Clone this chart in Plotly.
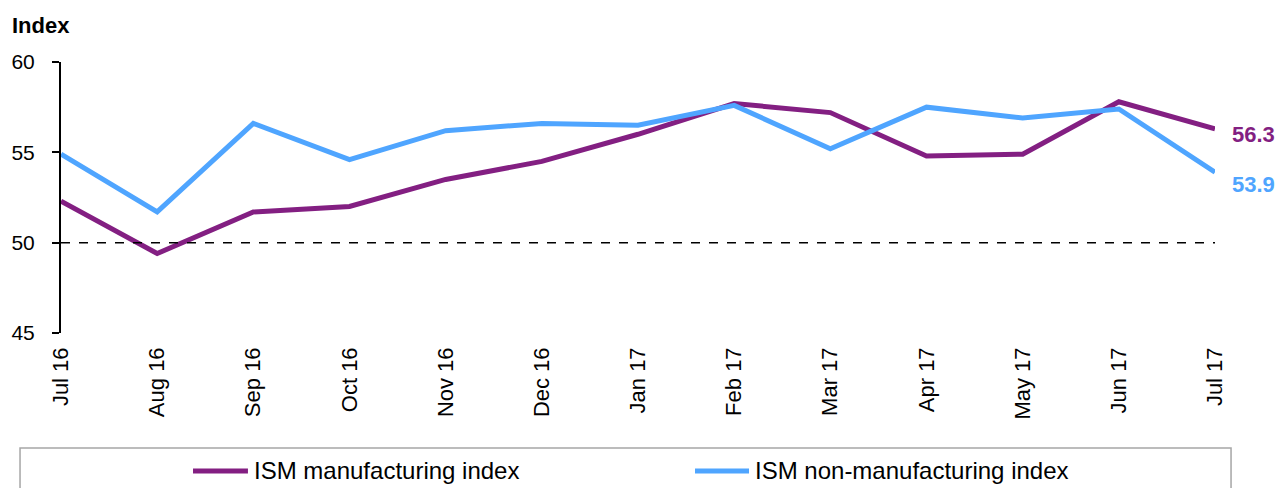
import plotly.graph_objects as go

months = ["Jul 16", "Aug 16", "Sep 16", "Oct 16", "Nov 16", "Dec 16", "Jan 17",
          "Feb 17", "Mar 17", "Apr 17", "May 17", "Jun 17", "Jul 17"]
ism_manufacturing = [52.3, 49.4, 51.7, 52.0, 53.5, 54.5, 56.0, 57.7, 57.2, 54.8, 54.9, 57.8, 56.3]
ism_non_manufacturing = [54.9, 51.7, 56.6, 54.6, 56.2, 56.6, 56.5, 57.6, 55.2, 57.5, 56.9, 57.4, 53.9]
series_names = ["ISM manufacturing index", "ISM non-manufacturing index"]

PURPLE = "#831F82"
BLUE = "#4FA5FF"
FONT = "Liberation Sans, Arial, sans-serif"

fig = go.Figure()
fig.add_trace(go.Scatter(x=months, y=ism_manufacturing, mode="lines",
                         name=series_names[0], showlegend=False,
                         line=dict(color=PURPLE, width=5)))
fig.add_trace(go.Scatter(x=months, y=ism_non_manufacturing, mode="lines",
                         name=series_names[1], showlegend=False,
                         line=dict(color=BLUE, width=5)))

# 50 reference line
fig.add_shape(type="line", xref="paper", yref="y", x0=0, x1=1, y0=50, y1=50,
              line=dict(color="black", width=1.5, dash="dash"))
# legend box
fig.add_shape(type="rect", xref="paper", yref="paper", x0=-0.0355, x1=1.0139,
              y0=-0.75, y1=-0.4244, line=dict(color="#A6A6A6", width=1.5))
# legend entries
leg_y = -0.5092
for (x0, x1, tx), col, name in zip([(0.1144, 0.1620, 0.1655), (0.5494, 0.5962, 0.6000)],
                                   [PURPLE, BLUE], series_names):
    fig.add_shape(type="line", xref="paper", yref="paper", x0=x0, x1=x1, y0=leg_y, y1=leg_y,
                  line=dict(color=col, width=5))
    fig.add_annotation(xref="paper", yref="paper", x=tx, y=leg_y, text=name,
                       showarrow=False, xanchor="left", yanchor="middle",
                       font=dict(color="black", size=24, family=FONT))

fig.add_annotation(x=months[-1], y=ism_manufacturing[-1], text="<b>%.1f</b>" % ism_manufacturing[-1],
                   showarrow=False, xanchor="left", xshift=15, yshift=-6,
                   font=dict(color=PURPLE, size=22, family=FONT))
fig.add_annotation(x=months[-1], y=ism_non_manufacturing[-1], text="<b>%.1f</b>" % ism_non_manufacturing[-1],
                   showarrow=False, xanchor="left", xshift=15, yshift=-12,
                   font=dict(color=BLUE, size=22, family=FONT))
fig.add_annotation(xref="paper", yref="paper", x=-0.0442, y=1.135, text="<b>Index</b>",
                   showarrow=False, xanchor="left", yanchor="middle",
                   font=dict(color="black", size=22, family=FONT))

fig.update_layout(
    width=1279, height=488,
    margin=dict(l=61, r=64, t=62, b=155),
    paper_bgcolor="white", plot_bgcolor="white",
    font=dict(family=FONT, color="black"),
    showlegend=False,
    xaxis=dict(type="category", range=[0, 12], showgrid=False, showline=False,
               zeroline=False, ticks="", tickangle=-90, ticklabelstandoff=9,
               automargin=False,
               tickfont=dict(size=22, family=FONT)),
    yaxis=dict(range=[45, 60], dtick=5, showgrid=False, zeroline=False,
               showline=True, linecolor="black", linewidth=2,
               ticks="outside", ticklen=7, tickwidth=2, tickcolor="black",
               ticklabelstandoff=13, automargin=False,
               tickfont=dict(size=21, family=FONT)),
)

fig.write_html("out.html", config={"displayModeBar": False},
               post_script="document.body.style.margin='0';document.body.style.overflow='hidden';")
